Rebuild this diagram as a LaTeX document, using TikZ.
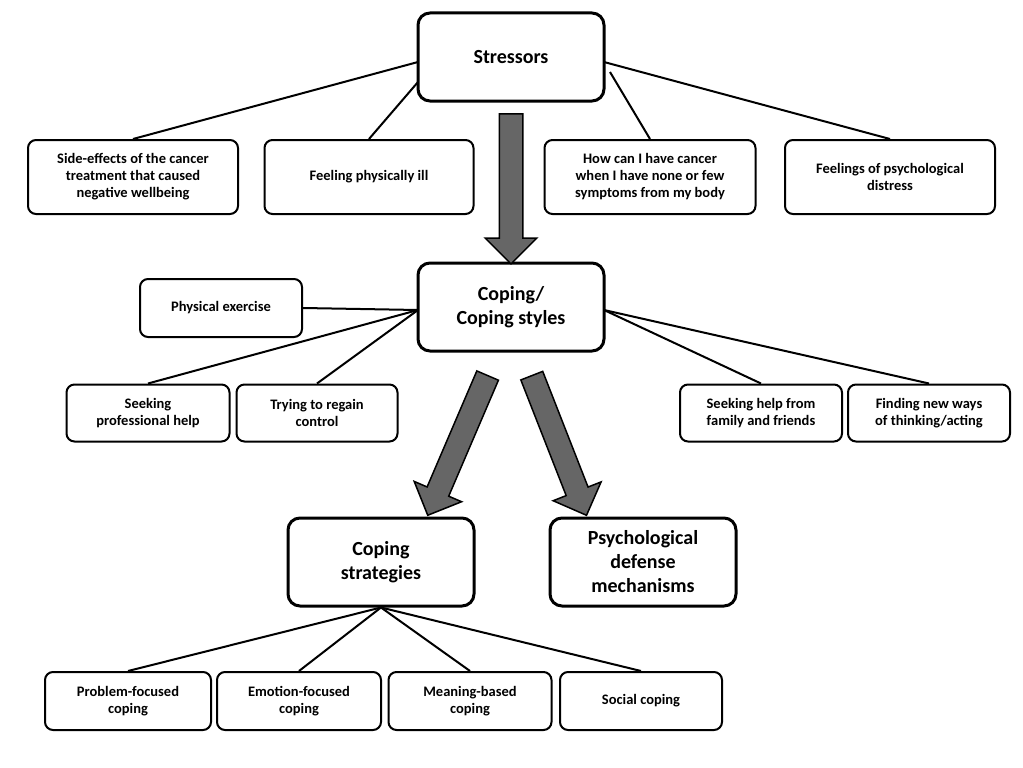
\documentclass[tikz,border=0pt]{standalone}
\usepackage{fontspec}
\setmainfont{Carlito}
\usetikzlibrary{shapes.arrows}
\begin{document}
\begin{tikzpicture}[x=1pt,y=-1pt,
  sm/.style={draw,line width=2pt,rounded corners=8pt,align=center,font=\fontsize{14.5}{17}\selectfont\bfseries,inner sep=0pt},
  bg/.style={draw,line width=3pt,rounded corners=12pt,align=center,font=\fontsize{20}{24}\selectfont\bfseries,inner sep=0pt,minimum width=186,minimum height=88},
  ln/.style={line width=2pt},
  ar/.style={single arrow,draw,line width=1.5pt,fill=black!60,inner xsep=0pt,inner ysep=11pt,single arrow head extend=14pt,minimum height=150}]
\useasboundingbox (0,0) rectangle (1023,768);
\node[bg] (st) at (511,57) {Stressors};
\node[sm,minimum width=210,minimum height=74] (s1) at (133,177) {Side-effects of the cancer\\treatment that caused\\negative wellbeing};
\node[sm,minimum width=209,minimum height=74] (s2) at (369,177) {Feeling physically ill};
\node[sm,minimum width=211,minimum height=74] (s3) at (650,177) {How can I have cancer\\when I have none or few\\symptoms from my body};
\node[sm,minimum width=210,minimum height=74] (s4) at (890,177) {Feelings of psychological\\distress};
\node[bg] (cp) at (511,307) {Coping/\\Coping styles};
\node[sm,minimum width=162,minimum height=58] (c1) at (221,308) {Physical exercise};
\node[sm,minimum width=163,minimum height=57] (c2) at (148,413) {Seeking\\professional help};
\node[sm,minimum width=161,minimum height=57] (c3) at (317,413) {Trying to regain\\control};
\node[sm,minimum width=162,minimum height=57] (c4) at (761,413) {Seeking help from\\family and friends};
\node[sm,minimum width=162,minimum height=57] (c5) at (929,413) {Finding new ways\\of thinking/acting};
\node[bg] (cs) at (381,562) {Coping\\strategies};
\node[bg] (pd) at (643,562) {Psychological\\defense\\mechanisms};
\node[sm,minimum width=166,minimum height=58] (k1) at (128,701) {Problem-focused\\coping};
\node[sm,minimum width=164,minimum height=58] (k2) at (299,701) {Emotion-focused\\coping};
\node[sm,minimum width=163,minimum height=58] (k3) at (470,701) {Meaning-based\\coping};
\node[sm,minimum width=162,minimum height=58] (k4) at (641,701) {Social coping};
\coordinate (stl) at (418,62);
\coordinate (stl2) at (418,82);
\coordinate (str) at (604,62);
\coordinate (str2) at (610,72);
\draw[ln] (stl) -- (s1.north);
\draw[ln] (stl2) -- (s2.north);
\draw[ln] (str) -- (s4.north);
\draw[ln] (str2) -- (s3.north);
\coordinate (cpl) at (418,310);
\coordinate (cpr) at (604,310);
\draw[ln] (cpl) -- (c1.east);
\draw[ln] (cpl) -- (c2.north);
\draw[ln] (cpl) -- (c3.north);
\draw[ln] (cpr) -- (c4.north);
\draw[ln] (cpr) -- (c5.north);
\foreach \k in {k1,k2,k3,k4} \draw[ln] (cs.south) -- (\k.north);
\node[ar,rotate=-90] (a1) at (511,183) {};
\node[ar,rotate=246.8,minimum height=152] (a2) at (460,440) {};
\node[ar,rotate=291.4] (a3) at (557,440) {};
\end{tikzpicture}
\end{document}
